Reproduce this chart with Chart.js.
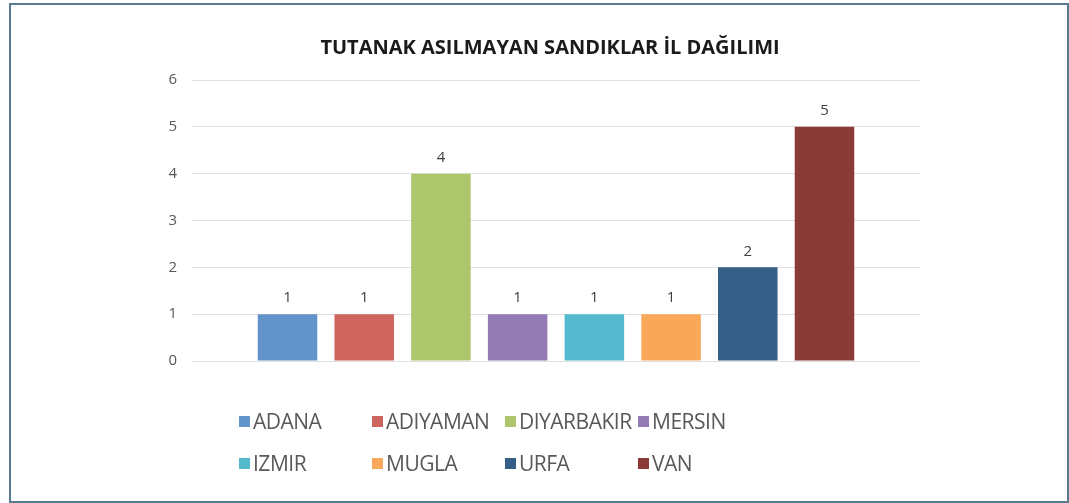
<!DOCTYPE html>
<html>
<head>
<meta charset="utf-8">
<script src="https://cdn.jsdelivr.net/npm/chart.js@4"></script>
<style>
  html, body { margin: 0; padding: 0; background: #fff; }
  #frame {
    position: absolute; left: 9px; top: 3px; width: 1060px; height: 500px;
    box-sizing: border-box; border: 2px solid #587b8f; background: #fff;
  }
  #chart { position: absolute; left: 0; top: 0; }
  #legend {
    position: absolute; left: 239px; top: 400px;
    display: grid; grid-template-columns: repeat(4, 133px); grid-auto-rows: 42px;
    font-family: "Open Sans", sans-serif; font-size: 21px; letter-spacing: -0.5px; color: #595959;
  }
  .item { display: flex; align-items: center; white-space: nowrap; }
  .box { width: 11px; height: 11px; margin-right: 3px; flex: none; }
</style>
</head>
<body>
<div id="frame"><canvas id="chart" width="1056" height="496"></canvas></div>
<div id="legend"></div>
<script>
const categories = ['ADANA', 'ADIYAMAN', 'DIYARBAKIR', 'MERSIN', 'IZMIR', 'MUGLA', 'URFA', 'VAN'];
const values = [1, 1, 4, 1, 1, 1, 2, 5];
const colors = ['#6294C9', '#CF655F', '#ADC66C', '#957BB4', '#56BACF', '#F9A85A', '#355F86', '#8A3B37'];
const titleText = 'TUTANAK ASILMAYAN SANDIKLAR İL DAĞILIMI';
const yMin = 0, yMax = 6, yStep = 1;

const datasets = categories.map((name, i) => ({
  label: name,
  data: [values[i]],
  backgroundColor: colors[i],
  borderWidth: 0
}));

const valueLabels = {
  id: 'valueLabels',
  afterDatasetsDraw(chart) {
    const ctx = chart.ctx;
    ctx.save();
    ctx.font = '15px "Open Sans", sans-serif';
    ctx.fillStyle = '#404040';
    ctx.textAlign = 'center';
    ctx.textBaseline = 'middle';
    chart.data.datasets.forEach((ds, i) => {
      const meta = chart.getDatasetMeta(i);
      meta.data.forEach((bar, j) => {
        ctx.fillText(String(ds.data[j]), bar.x, bar.y - 16);
      });
    });
    ctx.restore();
  }
};

const chartTitle = {
  id: 'chartTitle',
  afterDraw(chart) {
    const ctx = chart.ctx;
    ctx.save();
    ctx.font = 'bold 20px "Open Sans", sans-serif';
    ctx.fillStyle = '#1a1a1a';
    ctx.textAlign = 'center';
    ctx.textBaseline = 'middle';
    ctx.fillText(titleText, (chart.chartArea.left + chart.chartArea.right) / 2 - 6, chart.chartArea.top - 32);
    ctx.restore();
  }
};

new Chart(document.getElementById('chart'), {
  type: 'bar',
  data: { labels: [''], datasets },
  options: {
    responsive: false,
    animation: false,
    layout: { padding: { left: 150, right: 147, top: 75, bottom: 140 } },
    categoryPercentage: 0.843,
    barPercentage: 0.776,
    plugins: {
      legend: { display: false },
      tooltip: { enabled: false },
      title: { display: false }
    },
    scales: {
      x: { display: false },
      y: {
        min: yMin, max: yMax,
        ticks: { stepSize: yStep, color: '#595959', padding: 15, font: { family: '"Open Sans", sans-serif', size: 15 } },
        grid: { color: '#e0e0e0', drawTicks: false },
        border: { display: false },
        afterFit(scale) { scale.width = 31; }
      }
    }
  },
  plugins: [valueLabels, chartTitle]
});

const legend = document.getElementById('legend');
categories.forEach((name, i) => {
  const item = document.createElement('div');
  item.className = 'item';
  const box = document.createElement('span');
  box.className = 'box';
  box.style.background = colors[i];
  const txt = document.createElement('span');
  txt.textContent = name;
  item.appendChild(box);
  item.appendChild(txt);
  legend.appendChild(item);
});
</script>
</body>
</html>
